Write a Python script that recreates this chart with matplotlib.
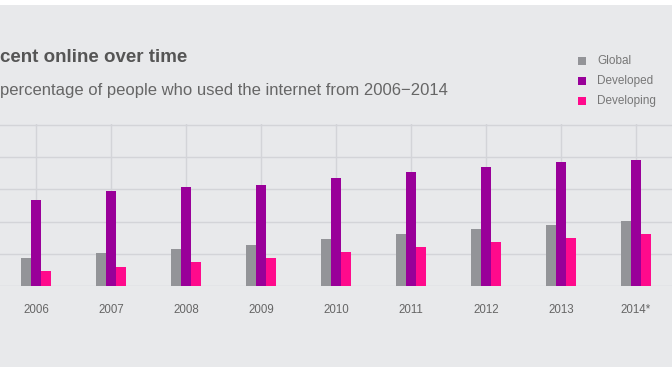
import numpy as np
import matplotlib
matplotlib.use("Agg")
import matplotlib.pyplot as plt
from matplotlib.patches import Rectangle

plt.rcParams['font.family'] = ['Liberation Sans', 'DejaVu Sans']

# data (percent of individuals using the internet)
years = ['2006', '2007', '2008', '2009', '2010', '2011', '2012', '2013', '2014*']
global_pct = [17.6, 20.6, 23.1, 25.7, 29.5, 32.5, 35.5, 37.9, 40.4]
developed_pct = [53.5, 59.1, 61.3, 62.9, 67.1, 70.5, 73.8, 76.8, 78.3]
developing_pct = [9.4, 12.0, 14.7, 17.4, 21.2, 24.4, 27.5, 30.0, 32.4]
series_names = ['Global', 'Developed', 'Developing']
colors = ['#939498', '#990099', '#ff0a8c']

W, H = 672, 372
bg = '#e8e9eb'
grid_color = '#d3d4d8'

fig = plt.figure(figsize=(W / 100, H / 100), dpi=100)
fig.patch.set_facecolor('white')
# grey panel (thin white strips at top and bottom)
fig.patches.append(Rectangle((0, (H - 367) / H), 1, (367 - 5) / H,
                             transform=fig.transFigure, facecolor=bg,
                             edgecolor='none', zorder=-5))

# axes: baseline at y=286px, 100% line at y=125px
ymax = 100.5
base_px, top_px = 286, 125
height_px = (base_px - top_px) * ymax / 100
ax = fig.add_axes([0, (H - base_px) / H, 1, height_px / H])
ax.set_facecolor('none')
ax.set_zorder(1)

x = np.arange(len(years))
bw = 10 / 75
for i, (vals, c) in enumerate(zip([global_pct, developed_pct, developing_pct], colors)):
    ax.bar(x + (i - 1) * bw, vals, width=bw, color=c, edgecolor='none',
           zorder=3, label=series_names[i])

ax.set_xlim(-0.48, 8.48)
ax.set_ylim(0, ymax)
ax.set_yticks([0, 20, 40, 60, 80, 100])
ax.set_xticks(x)
ax.set_xticklabels(years, fontsize=8.3, color='#666666')
ax.tick_params(axis='both', length=0, pad=13)
ax.tick_params(axis='y', labelleft=False)
ax.grid(True, color=grid_color, linewidth=1.0, zorder=0)
ax.set_axisbelow(True)
for s in ax.spines.values():
    s.set_visible(False)

# legend
leg_x, leg_y0, leg_dy = 582 / W, 60.5, 20.3
for i, (name, c) in enumerate(zip(series_names, colors)):
    y = 1 - (leg_y0 + i * leg_dy) / H
    fig.patches.append(Rectangle((leg_x - 4 / W, y - 4 / H), 8 / W, 8 / H,
                                 transform=fig.transFigure, facecolor=c,
                                 edgecolor='none', zorder=2))
    fig.text(597 / W, y, name, fontsize=8.5, color='#777777',
             va='center', ha='left')

# title and subtitle (visible part; the original is cropped at the left)
fig.text(0, 1 - 58 / H, 'cent online over time', fontsize=13.5,
         fontweight='bold', color='#555555', va='center', ha='left')
fig.text(0, 1 - 90 / H,
         'percentage of people who used the internet from 2006\u22122014',
         fontsize=12, color='#666666', va='center', ha='left')

fig.savefig('out.png', dpi=100, facecolor=fig.get_facecolor())
